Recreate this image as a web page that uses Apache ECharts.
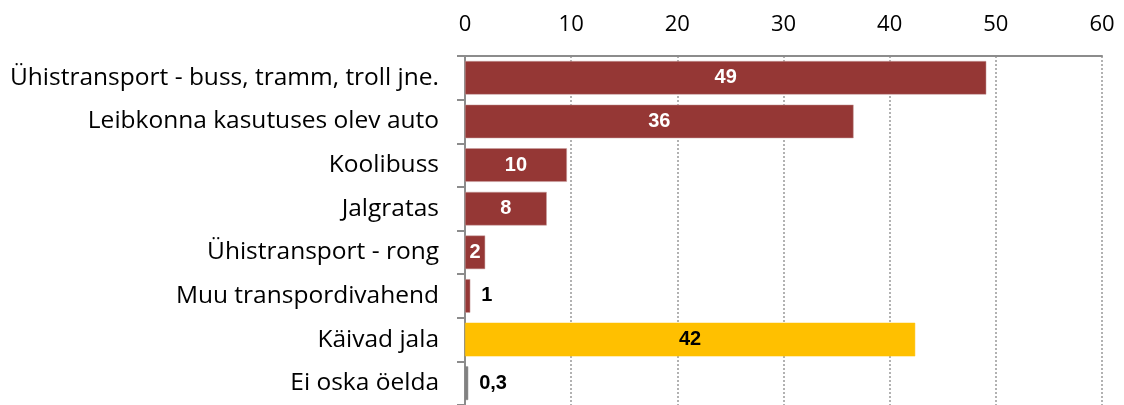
<!DOCTYPE html>
<html><head><meta charset="utf-8">
<script src="https://cdn.jsdelivr.net/npm/echarts@6/dist/echarts.min.js"></script>
<style>html,body{margin:0;padding:0;background:#fff}#c{width:1124px;height:405px}</style>
</head><body><div id="c"></div>
<script>
const categories = ["Ühistransport - buss, tramm, troll jne.", "Leibkonna kasutuses olev auto", "Koolibuss", "Jalgratas", "Ühistransport - rong", "Muu transpordivahend", "Käivad jala", "Ei oska öelda"];
const values = [49.1, 36.6, 9.6, 7.7, 1.9, 0.5, 42.4, 0.3];
const valueLabels = ["49", "36", "10", "8", "2", "1", "42", "0,3"];
const xTicks = [0, 10, 20, 30, 40, 50, 60];

const groupColor = ["#953735", "#953735", "#953735", "#953735", "#953735", "#953735", "#FFC000", "#808080"];
const labelInside = [true, true, true, true, true, false, true, false];

const chart = echarts.init(document.getElementById('c'));
const font = '"Open Sans", "Noto Sans", sans-serif';
chart.setOption({
  animation: false,
  grid: {left: 465, right: 22, top: 56, bottom: -3, containLabel: false},
  xAxis: {
    type: 'value', position: 'top', min: xTicks[0], max: xTicks[xTicks.length - 1], interval: 10,
    axisLine: {show: true, lineStyle: {color: '#8c8c8c', width: 2}},
    axisTick: {show: false},
    splitLine: {show: true, lineStyle: {color: '#999', type: [2, 2], width: 1.5}},
    axisLabel: {color: '#000', fontSize: 22, fontFamily: font, margin: 20}
  },
  yAxis: {
    type: 'category', inverse: true, data: categories,
    axisLine: {show: true, lineStyle: {color: '#8c8c8c', width: 2}},
    axisTick: {show: true, length: 8, lineStyle: {color: '#8c8c8c', width: 2}},
    axisLabel: {color: '#000', fontSize: 24.5, fontFamily: font, margin: 26}
  },
  series: [{
    type: 'bar', barCategoryGap: '23%',
    data: values.map((v, i) => ({
      value: v,
      itemStyle: {color: groupColor[i], borderColor: i < 6 ? '#c9a0a0' : groupColor[i], borderWidth: 0.5},
      label: {
        show: true,
        position: labelInside[i] ? 'inside' : 'right',
        offset: labelInside[i] ? [0, 0] : [6, 0],
        color: (labelInside[i] && i < 6) ? '#fff' : '#000',
        formatter: () => valueLabels[i]
      }
    })),
    label: {fontSize: 20, fontWeight: 'bold', fontFamily: '"Liberation Sans", Arial, sans-serif'}
  }]
});
</script></body></html>
